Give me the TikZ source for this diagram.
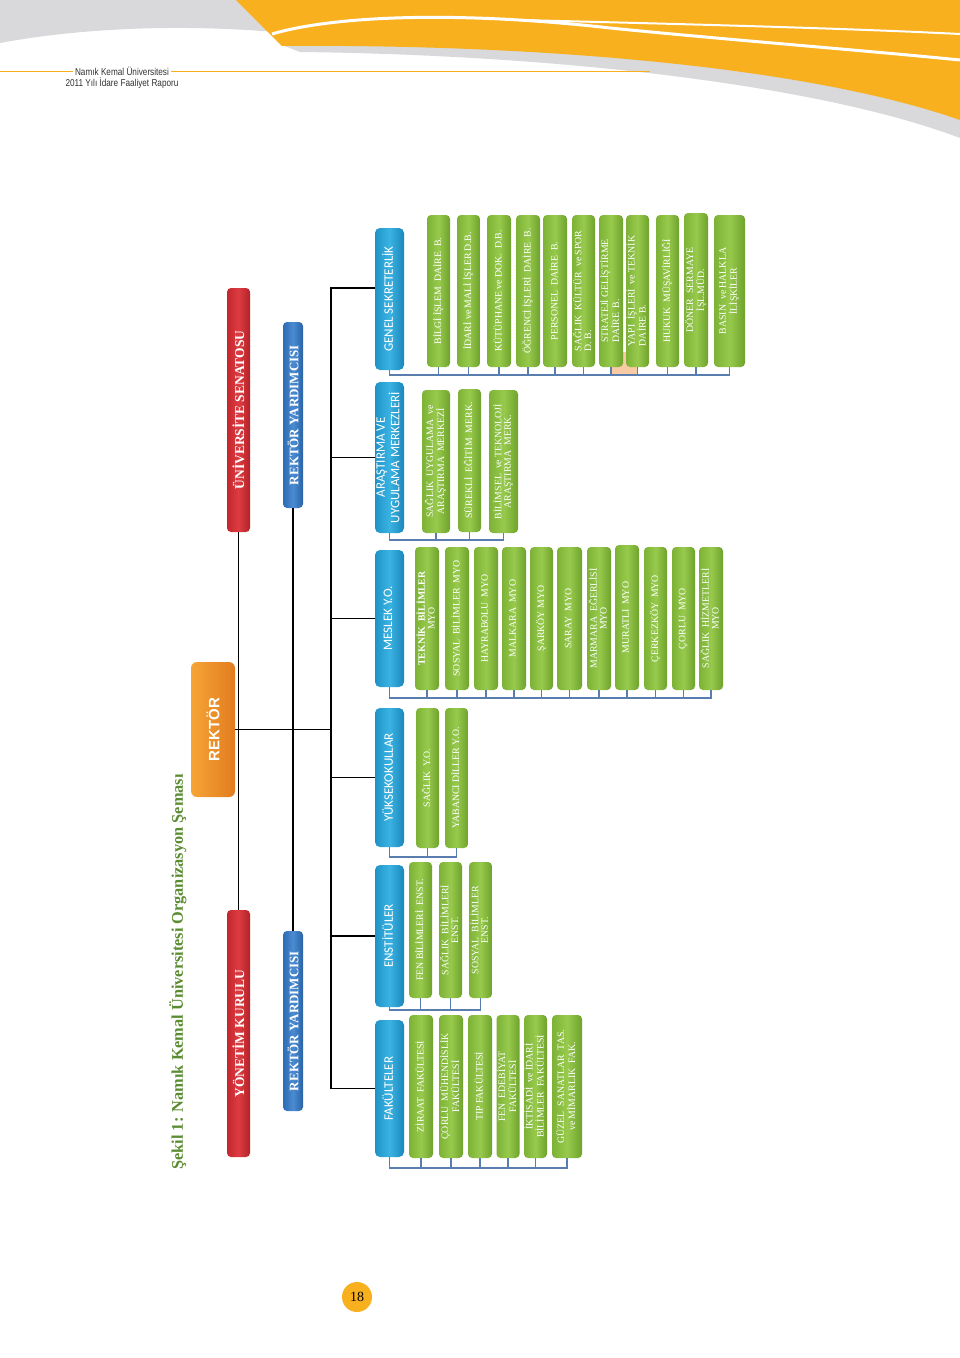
\documentclass[tikz,border=0pt]{standalone}
\usepackage{fontspec}
\setmainfont{Liberation Serif}
\newfontfamily\sansf{Carlito}
\newfontfamily\arialf{Liberation Sans}
\newfontfamily\condf[FakeStretch=0.82]{Liberation Sans}
\usepackage{graphicx}
\definecolor{hdr}{HTML}{F9B01E}
\definecolor{hgray}{HTML}{D9D9DB}
\definecolor{titlec}{HTML}{5B8C32}
\definecolor{gl}{HTML}{7DB236}
\definecolor{gm}{HTML}{97CA4C}
\definecolor{gr}{HTML}{6FA22C}
\definecolor{bl}{HTML}{1F93C8}
\definecolor{bm}{HTML}{3AB3E2}
\definecolor{br}{HTML}{1C86BA}
\definecolor{rl}{HTML}{C4262D}
\definecolor{rm}{HTML}{DC3C42}
\definecolor{rr}{HTML}{B22228}
\definecolor{yl}{HTML}{2E6CB3}
\definecolor{ym}{HTML}{4A8BD2}
\definecolor{yr}{HTML}{2A63A6}
\definecolor{ol}{HTML}{F6A536}
\definecolor{or}{HTML}{E27C1E}
\definecolor{subc}{HTML}{5A7DB0}
\definecolor{peach}{HTML}{F8CBA4}
\newcommand{\rtc}[1]{\rotatebox{90}{\begin{tabular}{@{}c@{}}#1\end{tabular}}}
\newcommand{\rtl}[1]{\rotatebox{90}{\begin{tabular}{@{}l@{}}#1\end{tabular}}}
\newcommand{\gb}[6]{\node[gbox,minimum width=#3pt,minimum height=#4pt] (#1) at (#2,#5) {#6};}
\begin{document}
\begin{tikzpicture}[x=1pt,y=-1pt,
  conn/.style={line width=1.8pt,black},
  sub/.style={line width=1.3pt,subc},
  gbox/.style={rounded corners=4pt,inner sep=0pt,left color=gl,right color=gr,middle color=gm,text=white,font=\fontsize{9.8}{9.6}\selectfont},
  bbox/.style={rounded corners=5pt,inner sep=0pt,left color=bl,right color=br,middle color=bm,text=white,font=\sansf\fontsize{13}{13}\selectfont,minimum width=29pt},
  rbox/.style={rounded corners=4pt,inner sep=0pt,left color=rl,right color=rr,middle color=rm,text=white,font=\bfseries\fontsize{13.5}{13.5}\selectfont,minimum width=23pt},
  ybox/.style={rounded corners=4pt,inner sep=0pt,left color=yl,right color=yr,middle color=ym,text=white,font=\bfseries\fontsize{13}{13}\selectfont,minimum width=20pt},
  obox/.style={rounded corners=6pt,inner sep=0pt,left color=ol,right color=or,text=white,font=\arialf\bfseries\fontsize{15}{15}\selectfont}
]
\useasboundingbox[fill=white] (0,0) rectangle (960,1358);

% ---------- header ----------
\fill[hgray] (0,0) -- (300,0) -- (300,33) -- (275,32) .. controls (180,24) and (80,28) .. (0,43) -- cycle;
\fill[hgray] (282,45) .. controls (520,43) and (800,62) .. (960,112) -- (960,138) .. controls (820,85) and (560,55) .. (300,52) -- cycle;
\fill[hdr] (236,0) -- (960,0) -- (960,120) .. controls (800,64) and (520,44) .. (282,46) -- cycle;
\draw[white,line width=3pt] (272,34) .. controls (340,14) and (470,12) .. (610,28) .. controls (730,40) and (860,50) .. (960,60);
\draw[white,line width=2pt] (520,20) .. controls (680,24) and (840,28) .. (960,34);
\node[font=\condf\fontsize{10}{10}\selectfont,text=black!80,inner sep=2pt] (h1) at (122,71) {Namık Kemal Üniversitesi};
\node[font=\condf\fontsize{10}{10}\selectfont,text=black!80,inner sep=1pt] (h2) at (122,83) {2011 Yılı İdare Faaliyet Raporu};
\draw[hdr,line width=1pt] (0,71) -- (h1.west);
\draw[hdr,line width=1pt] (h1.east) -- (650,71);

% ---------- title ----------
\node[rotate=90,font=\bfseries\fontsize{16.3}{16.3}\selectfont,text=titlec] (title) at (178,972) {Şekil 1: Namık Kemal Üniversitesi Organizasyon Şeması};

% ---------- top level ----------
\node[obox,minimum width=44pt,minimum height=135pt] (rek) at (213,729.5) {\rotatebox{90}{REKTÖR}};
\node[rbox,minimum height=244pt] (sen) at (238.5,410) {\rotatebox{90}{ÜNİVERSİTE SENATOSU}};
\node[rbox,minimum height=247pt] (yk) at (238.5,1033.5) {\rotatebox{90}{YÖNETİM KURULU}};
\node[ybox,minimum height=186pt] (ryr) at (293,415) {\rotatebox{90}{REKTÖR YARDIMCISI}};
\node[ybox,minimum height=180pt] (ryl) at (293,1021) {\rotatebox{90}{REKTÖR YARDIMCISI}};

% ---------- level 2 ----------
\node[bbox,minimum height=142pt] (gs) at (389.5,299) {\rtc{GENEL SEKRETERLİK}};
\node[bbox,minimum height=151pt] (ar) at (389.5,457.5) {\rtc{ARAŞTIRMA VE\\UYGULAMA MERKEZLERİ}};
\node[bbox,minimum height=137pt] (my) at (389.5,618.5) {\rtc{MESLEK Y.O.}};
\node[bbox,minimum height=139pt] (yo) at (389.5,777.5) {\rtc{YÜKSEKOKULLAR}};
\node[bbox,minimum height=142pt] (en) at (389.5,936) {\rtc{ENSTİTÜLER}};
\node[bbox,minimum height=137pt] (fk) at (389.5,1088.5) {\rtc{FAKÜLTELER}};

% ---------- black connectors ----------
\coordinate (tx) at (331,0);
\draw[conn] (sen.south) -- (yk.north);
\draw[conn] (ryr.south) -- (ryl.north);
\draw[conn] (rek.east) -- (rek.east -| tx);
\draw[conn] ([yshift=11pt]gs.west) -- ([yshift=11pt]gs.west -| tx) -- (fk.west -| tx) -- (fk.west);
\foreach \n in {ar,my,yo,en} \draw[conn] (\n.west -| tx) -- (\n.west);

% ---------- highlight ----------
\fill[peach] (612,352) rectangle (637,376);

% ---------- Genel Sekreterlik ----------
\gb{gs1}{438.5}{23}{152}{291}{\rtc{BİLGİ İŞLEM\ \ DAİRE\ \ B.}}
\gb{gs2}{468.5}{23}{152}{291}{\rtc{İDARİ ve MALİ İŞLER D.B.}}
\gb{gs3}{499}{24}{152}{291}{\rtc{KÜTÜPHANE ve DOK.\ \ D.B.}}
\gb{gs4}{528}{24}{152}{291}{\rtc{ÖĞRENCİ İŞLERİ\ \ DAİRE\ \ B.}}
\gb{gs5}{555}{24}{152}{291}{\rtc{PERSONEL\ \ DAİRE\ \ B.}}
\gb{gs6}{583.5}{23}{152}{291}{\rtl{SAĞLIK\ \ KÜLTÜR\ \ ve SPOR\\D. B.}}
\gb{gs7}{611}{24}{152}{291}{\rtl{STRATEJİ GELİŞTİRME\\DAİRE\ \ B.}}
\gb{gs8}{637.5}{23}{152}{291}{\rtl{YAPI\ \ İŞLERİ\ \ ve TEKNİK\\DAİRE B.}}
\gb{gs9}{667.5}{23}{152}{291}{\rtc{HUKUK\ \ MÜŞAVİRLİĞİ}}
\gb{gs10}{696}{24}{154}{290}{\rtc{DÖNER\ \ SERMAYE\\İŞL.MÜD.}}
\gb{gs11}{729.5}{31}{152}{291}{\rtc{BASIN\ \ ve HALKLA\\İLİŞKİLER}}
\coordinate (bgs) at (0,375);
\draw[sub] (gs.south) -- (gs.south |- bgs) -- (gs11.south |- bgs) -- (gs11.south);
\foreach \i in {1,...,10} \draw[sub] (gs\i.south) -- (gs\i.south |- bgs);

% ---------- Arastirma ----------
\gb{ar1}{436}{28}{143}{461.5}{\rtc{SAĞLIK\ \ UYGULAMA\ \ ve\\ARAŞTIRMA\ \ MERKEZİ}}
\gb{ar2}{469.5}{23}{143}{460.5}{\rtc{SÜREKLİ\ \ EĞİTİM\ \ MERK.}}
\gb{ar3}{503.5}{29}{143}{461.5}{\rtc{BİLİMSEL\ \ ve TEKNOLOJİ\\ARAŞTIRMA\ \ MERK.}}
\coordinate (bar) at (0,540);
\draw[sub] (ar.south) -- (ar.south |- bar) -- (ar3.south |- bar) -- (ar3.south);
\foreach \i in {1,2} \draw[sub] (ar\i.south) -- (ar\i.south |- bar);

% ---------- Meslek Y.O. ----------
\gb{my1}{427}{24}{143}{618.5}{\rtc{\textbf{TEKNİK\ \ BİLİMLER}\\MYO}}
\gb{my2}{457}{24}{143}{618.5}{\rtc{SOSYAL\ \ BİLİMLER\ \ MYO}}
\gb{my3}{486}{24}{143}{618.5}{\rtc{HAYRABOLU\ \ MYO}}
\gb{my4}{514}{24}{143}{618.5}{\rtc{MALKARA\ \ MYO}}
\gb{my5}{541.5}{23}{143}{618.5}{\rtc{ŞARKÖY MYO}}
\gb{my6}{569.5}{25}{143}{618.5}{\rtc{SARAY\ \ MYO}}
\gb{my7}{599}{24}{143}{618.5}{\rtc{MARMARA\ \ EĞERLİSİ\\MYO}}
\gb{my8}{627}{24}{145}{617.5}{\rtc{MURATLI\ \ MYO}}
\gb{my9}{655.5}{23}{143}{618.5}{\rtc{ÇERKEZKÖY\ \ MYO}}
\gb{my10}{683.5}{23}{143}{618.5}{\rtc{ÇORLU\ \ MYO}}
\gb{my11}{711}{24}{143}{618.5}{\rtc{SAĞLIK\ \ HİZMETLERİ\\MYO}}
\coordinate (bmy) at (0,698);
\draw[sub] (my.south) -- (my.south |- bmy) -- (my11.south |- bmy) -- (my11.south);
\foreach \i in {1,...,10} \draw[sub] (my\i.south) -- (my\i.south |- bmy);

% ---------- Yuksekokullar ----------
\gb{yo1}{427.5}{23}{140}{778}{\rtc{SAĞLIK\ \ Y.O.}}
\gb{yo2}{456.5}{23}{140}{778}{\rtc{YABANCI DİLLER Y.O.}}
\coordinate (byo) at (0,857);
\draw[sub] (yo.south) -- (yo.south |- byo) -- (yo2.south |- byo) -- (yo2.south);
\draw[sub] (yo1.south) -- (yo1.south |- byo);

% ---------- Enstituler ----------
\gb{en1}{420.5}{23}{136}{930}{\rtc{FEN BİLİMLERİ\ \ ENST.}}
\gb{en2}{450.5}{23}{136}{930}{\rtc{SAĞLIK\ \ BİLİMLERİ\\ENST.}}
\gb{en3}{480.5}{23}{136}{930}{\rtc{SOSYAL\ \ BİLİMLER\\ENST.}}
\coordinate (ben) at (0,1010);
\draw[sub] (en.south) -- (en.south |- ben) -- (en3.south |- ben) -- (en3.south);
\foreach \i in {1,2} \draw[sub] (en\i.south) -- (en\i.south |- ben);

% ---------- Fakulteler ----------
\gb{fk1}{421}{24}{143}{1086.5}{\rtc{ZİRAAT\ \ FAKÜLTESİ}}
\gb{fk2}{451}{24}{143}{1086.5}{\rtc{ÇORLU\ \ MÜHENDİSLİK\\FAKÜLTESİ}}
\gb{fk3}{480}{24}{143}{1086.5}{\rtc{TIP FAKÜLTESİ}}
\gb{fk4}{508}{23}{143}{1086.5}{\rtc{FEN\ \ EDEBİYAT\\FAKÜLTESİ}}
\gb{fk5}{535.5}{23}{143}{1086.5}{\rtc{İKTİSADİ\ \ ve İDARİ\\BİLİMLER\ \ FAKÜLTESİ}}
\gb{fk6}{567}{30}{143}{1086.5}{\rtc{GÜZEL\ \ SANATLAR\ \ TAS.\\ve MİMARLIK\ \ FAK.}}
\coordinate (bfk) at (0,1168);
\draw[sub] (fk.south) -- (fk.south |- bfk) -- (fk6.south |- bfk) -- (fk6.south);
\foreach \i in {1,...,5} \draw[sub] (fk\i.south) -- (fk\i.south |- bfk);

% ---------- page number ----------
\node[circle,fill=hdr,minimum size=30pt,inner sep=0pt,font=\fontsize{14}{14}\selectfont] (pg) at (357,1297) {18};
\end{tikzpicture}
\end{document}
